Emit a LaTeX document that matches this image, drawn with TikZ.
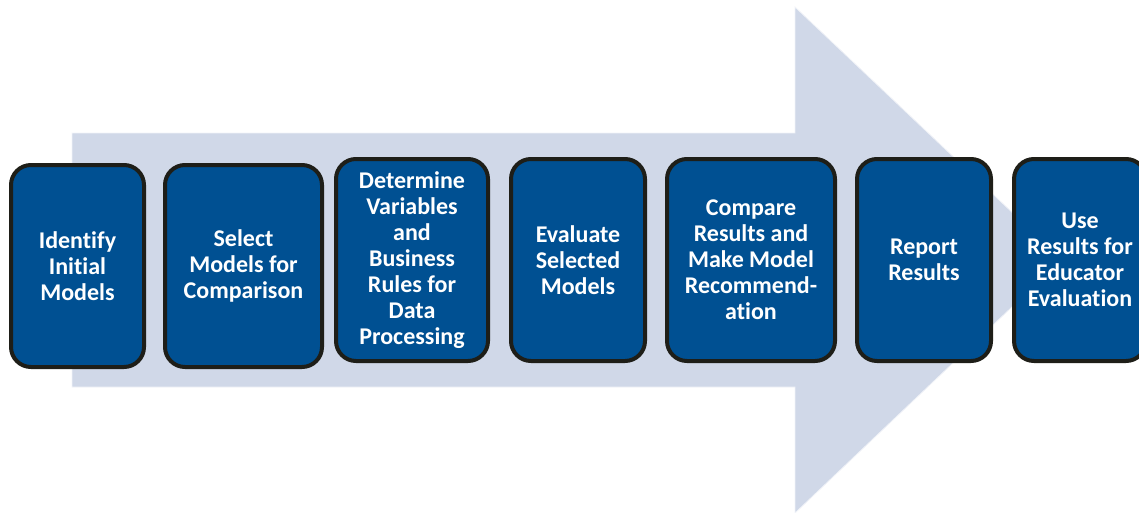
\documentclass[tikz,border=0pt]{standalone}
\usepackage{fontspec}
\setmainfont{Carlito}[Ligatures=NoCommon]
\begin{document}
\begin{tikzpicture}[x=1pt,y=-1pt,
  stepbox/.style={draw=boxline, line width=4pt, fill=boxblue, rounded corners=20pt,
    text=white, font=\bfseries\fontsize{24}{26}\selectfont, align=center,
    inner sep=0pt, minimum height=202pt}]
\definecolor{boxblue}{RGB}{0,80,146}
\definecolor{boxline}{RGB}{30,30,24}
\definecolor{arrowfill}{RGB}{208,216,232}
\useasboundingbox (0,0) rectangle (1139,512);
\clip (0,0) rectangle (1139,512);
% big background arrow
\fill[arrowfill, draw=white!70!arrowfill, line width=0.8pt]
  (72,133) -- (795,133) -- (795,7) -- (1062,259.5) -- (795,513)
  -- (795,387) -- (72,387) -- cycle;
% process steps
\node[stepbox, minimum width=133pt] (b1) at (77.5,266) {Identify\\Initial\\Models};
\node[stepbox, minimum width=157pt] (b2) at (243.5,266) {Select\\Models for\\Comparison};
\node[stepbox, minimum width=152pt] (b3) at (412,260) {Determine\\Variables\\and\\Business\\Rules for\\Data\\Processing};
\node[stepbox, minimum width=134pt] (b4) at (578,260) {Evaluate\\Selected\\Models};
\node[stepbox, minimum width=168pt] (b5) at (751,260) {Compare\\Results and\\Make Model\\Recommend-\\ation};
\node[stepbox, minimum width=134pt] (b6) at (924,260) {Report\\Results};
\node[stepbox, minimum width=132pt] (b7) at (1080,260) {Use\\Results for\\Educator\\Evaluation};
\end{tikzpicture}
\end{document}
